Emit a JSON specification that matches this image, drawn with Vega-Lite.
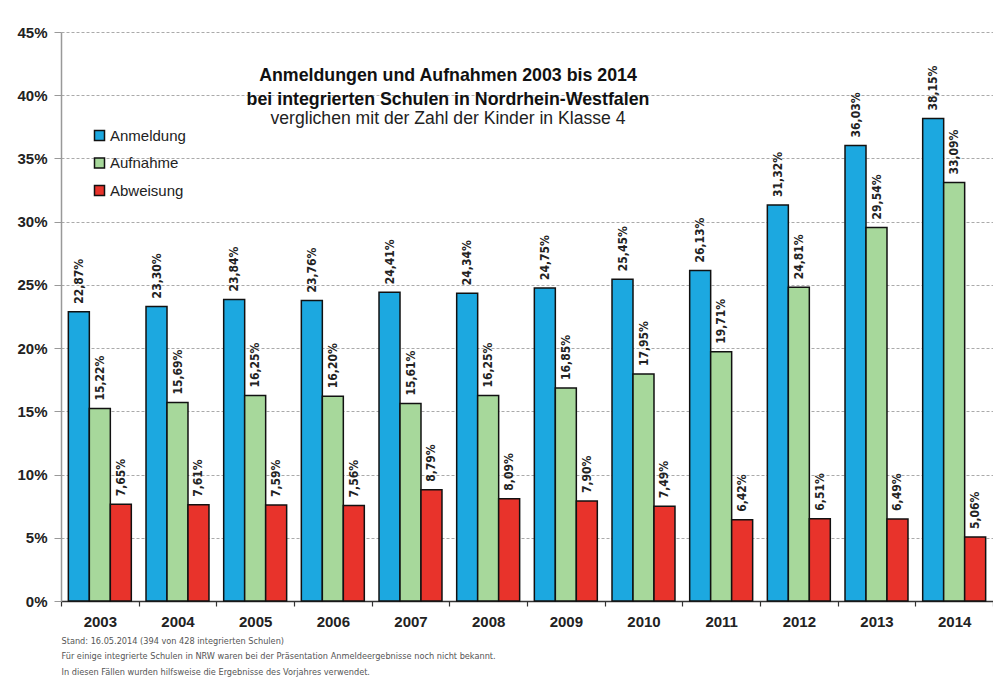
{
  "$schema": "https://vega.github.io/schema/vega-lite/v6.json",
  "width": 932,
  "height": 569,
  "autosize": "none",
  "padding": {"left": 61, "top": 32, "right": 0, "bottom": 89},
  "background": "white",
  "config": {
    "locale": {"number": {"decimal": ",", "thousands": ".", "grouping": [3], "currency": ["", " €"]}},
    "view": {"stroke": null},
    "font": "Liberation Sans"
  },
  "title": {
    "text": ["Anmeldungen und Aufnahmen 2003 bis 2014", "bei integrierten Schulen in Nordrhein-Westfalen"],
    "subtitle": "verglichen mit der Zahl der Kinder in Klasse 4",
    "fontSize": 17.8,
    "fontWeight": "bold",
    "font": "Liberation Sans",
    "color": "#111",
    "lineHeight": 24,
    "subtitleFontSize": 17.6,
    "subtitleFont": "Liberation Sans",
    "subtitleColor": "#222",
    "subtitleLineHeight": 19,
    "subtitlePadding": 2,
    "anchor": "middle",
    "dx": -79,
    "dy": 103,
    "offset": 0
  },
  "data": {
    "values": [
      {"Jahr": "2003", "Serie": "Anmeldung", "Wert": 0.2287},
      {"Jahr": "2003", "Serie": "Aufnahme", "Wert": 0.1522},
      {"Jahr": "2003", "Serie": "Abweisung", "Wert": 0.0765},
      {"Jahr": "2004", "Serie": "Anmeldung", "Wert": 0.2330},
      {"Jahr": "2004", "Serie": "Aufnahme", "Wert": 0.1569},
      {"Jahr": "2004", "Serie": "Abweisung", "Wert": 0.0761},
      {"Jahr": "2005", "Serie": "Anmeldung", "Wert": 0.2384},
      {"Jahr": "2005", "Serie": "Aufnahme", "Wert": 0.1625},
      {"Jahr": "2005", "Serie": "Abweisung", "Wert": 0.0759},
      {"Jahr": "2006", "Serie": "Anmeldung", "Wert": 0.2376},
      {"Jahr": "2006", "Serie": "Aufnahme", "Wert": 0.1620},
      {"Jahr": "2006", "Serie": "Abweisung", "Wert": 0.0756},
      {"Jahr": "2007", "Serie": "Anmeldung", "Wert": 0.2441},
      {"Jahr": "2007", "Serie": "Aufnahme", "Wert": 0.1561},
      {"Jahr": "2007", "Serie": "Abweisung", "Wert": 0.0879},
      {"Jahr": "2008", "Serie": "Anmeldung", "Wert": 0.2434},
      {"Jahr": "2008", "Serie": "Aufnahme", "Wert": 0.1625},
      {"Jahr": "2008", "Serie": "Abweisung", "Wert": 0.0809},
      {"Jahr": "2009", "Serie": "Anmeldung", "Wert": 0.2475},
      {"Jahr": "2009", "Serie": "Aufnahme", "Wert": 0.1685},
      {"Jahr": "2009", "Serie": "Abweisung", "Wert": 0.0790},
      {"Jahr": "2010", "Serie": "Anmeldung", "Wert": 0.2545},
      {"Jahr": "2010", "Serie": "Aufnahme", "Wert": 0.1795},
      {"Jahr": "2010", "Serie": "Abweisung", "Wert": 0.0749},
      {"Jahr": "2011", "Serie": "Anmeldung", "Wert": 0.2613},
      {"Jahr": "2011", "Serie": "Aufnahme", "Wert": 0.1971},
      {"Jahr": "2011", "Serie": "Abweisung", "Wert": 0.0642},
      {"Jahr": "2012", "Serie": "Anmeldung", "Wert": 0.3132},
      {"Jahr": "2012", "Serie": "Aufnahme", "Wert": 0.2481},
      {"Jahr": "2012", "Serie": "Abweisung", "Wert": 0.0651},
      {"Jahr": "2013", "Serie": "Anmeldung", "Wert": 0.3603},
      {"Jahr": "2013", "Serie": "Aufnahme", "Wert": 0.2954},
      {"Jahr": "2013", "Serie": "Abweisung", "Wert": 0.0649},
      {"Jahr": "2014", "Serie": "Anmeldung", "Wert": 0.3815},
      {"Jahr": "2014", "Serie": "Aufnahme", "Wert": 0.3309},
      {"Jahr": "2014", "Serie": "Abweisung", "Wert": 0.0506}
    ]
  },
  "encoding": {
    "x": {
      "field": "Jahr",
      "type": "nominal",
      "scale": {"paddingInner": 0, "paddingOuter": 0},
      "axis": {
        "labelAngle": 0,
        "labelFont": "Liberation Sans",
        "labelFontSize": 15,
        "labelFontWeight": "bold",
        "labelColor": "#222",
        "domainColor": "#333",
        "domainWidth": 1.5,
        "tickColor": "#333",
        "tickWidth": 1.2,
        "tickSize": 5,
        "tickBand": "extent",
        "labelPadding": 8,
        "grid": false,
        "title": [
          "Stand: 16.05.2014 (394 von 428 integrierten Schulen)",
          "Für einige integrierte Schulen in NRW waren bei der Präsentation Anmeldeergebnisse noch nicht bekannt.",
          "In diesen Fällen wurden hilfsweise die Ergebnisse des Vorjahres verwendet."
        ],
        "titleAnchor": "start",
        "titleAlign": "left",
        "titleFont": "DejaVu Sans Condensed, Liberation Sans",
        "titleFontSize": 9.1,
        "titleFontWeight": "normal",
        "titleColor": "#555",
        "titlePadding": 7,
        "titleLineHeight": 15.5
      }
    },
    "xOffset": {
      "field": "Serie",
      "type": "nominal",
      "sort": ["Anmeldung", "Aufnahme", "Abweisung"],
      "scale": {"paddingInner": 0, "paddingOuter": 0.35}
    },
    "y": {
      "field": "Wert",
      "type": "quantitative",
      "scale": {"domain": [0, 0.45], "nice": false},
      "axis": {
        "values": [0, 0.05, 0.1, 0.15, 0.2, 0.25, 0.3, 0.35, 0.4, 0.45],
        "format": ".0%",
        "labelFont": "Liberation Sans",
        "labelFontSize": 15,
        "labelFontWeight": "bold",
        "labelColor": "#222",
        "domainColor": "#999",
        "domainWidth": 1.5,
        "tickColor": "#999",
        "tickSize": 7,
        "labelPadding": 7,
        "grid": true,
        "gridColor": "#aaa",
        "gridDash": [3, 2],
        "title": null
      }
    }
  },
  "layer": [
    {
      "mark": {"type": "bar", "stroke": "#111", "strokeWidth": 1.5},
      "encoding": {
        "color": {
          "field": "Serie",
          "type": "nominal",
          "scale": {"domain": ["Anmeldung", "Aufnahme", "Abweisung"], "range": ["#1ca8e0", "#a7d89b", "#e8332b"]},
          "legend": {
            "orient": "none",
            "legendX": 31,
            "legendY": 96,
            "title": null,
            "symbolType": "square",
            "symbolSize": 100,
            "symbolStrokeColor": "#111",
            "symbolStrokeWidth": 1.5,
            "labelFont": "Liberation Sans",
            "labelFontSize": 15,
            "labelColor": "#222",
            "labelOffset": 3,
            "rowPadding": 10.5
          }
        }
      }
    },
    {
      "mark": {
        "type": "text",
        "angle": 270,
        "align": "left",
        "baseline": "middle",
        "dx": 8,
        "font": "DejaVu Sans Condensed, Liberation Sans",
        "fontSize": 12,
        "fontWeight": "bold",
        "color": "#222"
      },
      "encoding": {
        "text": {"field": "Wert", "type": "quantitative", "format": ".2%"}
      }
    }
  ]
}
